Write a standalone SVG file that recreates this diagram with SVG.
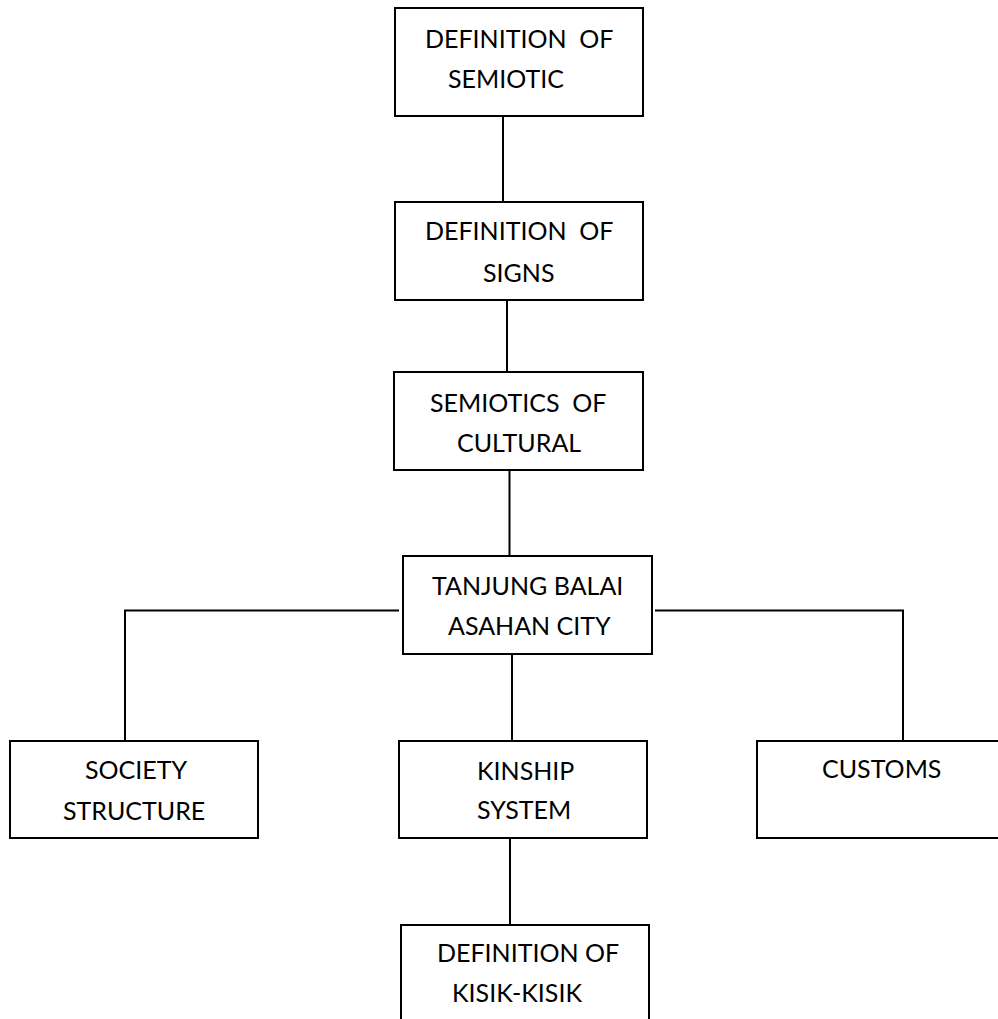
<svg xmlns="http://www.w3.org/2000/svg" width="998" height="1019" viewBox="0 0 998 1019">
<style>
.box{fill:#fff;stroke:#000;stroke-width:2}
.con{fill:none;stroke:#000;stroke-width:2}
text{font-family:Lato,"Open Sans","Liberation Sans",sans-serif;font-size:25px;fill:#000;white-space:pre}
</style>
<rect width="998" height="1019" fill="#fff"/>
<g id="connectors">
<path class="con" d="M503,116V202"/>
<path class="con" d="M507,300V372"/>
<path class="con" d="M509.5,470V556"/>
<path class="con" d="M512,654V741"/>
<path class="con" d="M510,838V925"/>
<path class="con" d="M399,610.5H125V741"/>
<path class="con" d="M655,610.5H903V741"/>
</g>
<g id="n1"><rect class="box" x="395" y="8" width="248" height="108"/>
<text x="425" y="48" xml:space="preserve">DEFINITION  OF</text><text x="448" y="88">SEMIOTIC</text></g>
<g id="n2"><rect class="box" x="395" y="202" width="248" height="98"/>
<text x="425" y="240" xml:space="preserve">DEFINITION  OF</text><text x="483" y="282">SIGNS</text></g>
<g id="n3"><rect class="box" x="394" y="372" width="249" height="98"/>
<text x="430" y="412" xml:space="preserve">SEMIOTICS  OF</text><text x="457" y="452">CULTURAL</text></g>
<g id="n4"><rect class="box" x="403" y="556" width="249" height="98"/>
<text x="432" y="595">TANJUNG BALAI</text><text x="448" y="635">ASAHAN CITY</text></g>
<g id="n5"><rect class="box" x="10" y="741" width="248" height="97"/>
<text x="85" y="779">SOCIETY</text><text x="63" y="820">STRUCTURE</text></g>
<g id="n6"><rect class="box" x="399" y="741" width="248" height="97"/>
<text x="477" y="780">KINSHIP</text><text x="477" y="819">SYSTEM</text></g>
<g id="n7"><rect class="box" x="757" y="741" width="243" height="97"/>
<text x="822" y="778">CUSTOMS</text></g>
<g id="n8"><path class="box" d="M401,1020V925H649V1020"/>
<text x="437" y="962">DEFINITION OF</text><text x="452" y="1002">KISIK-KISIK</text></g>
</svg>
